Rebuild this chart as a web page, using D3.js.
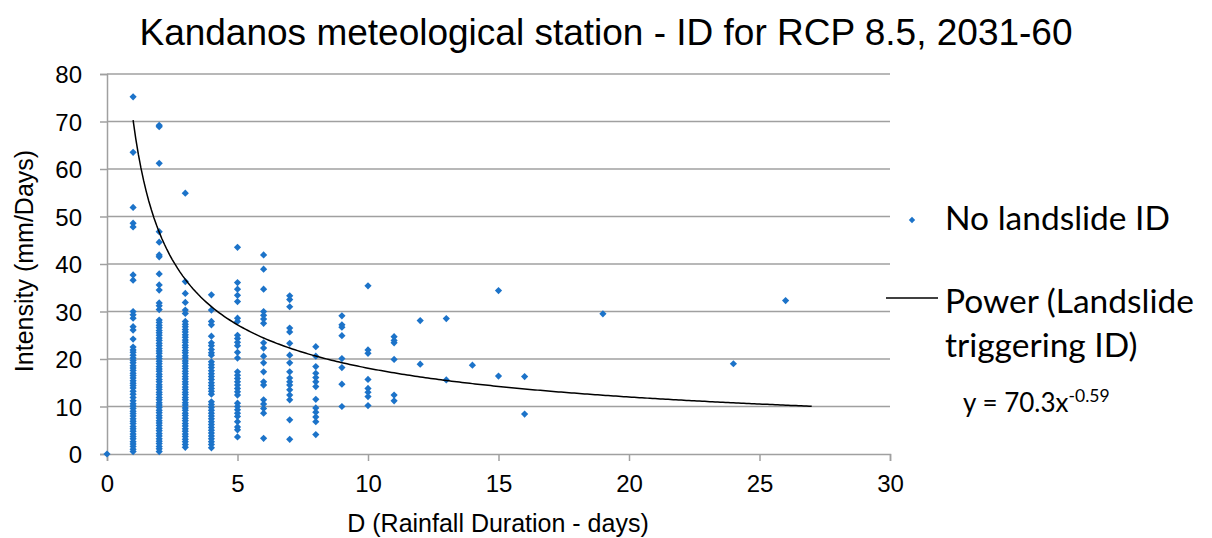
<!DOCTYPE html>
<html>
<head>
<meta charset="utf-8">
<script src="https://cdn.jsdelivr.net/npm/d3@7"></script>
<style>
  body { margin: 0; background: #fff; }
  text { font-family: "Liberation Sans", Arial, sans-serif; }
  .legend text { font-family: Lato, "Open Sans", sans-serif; }
</style>
</head>
<body>
<script>
var W = 1212, H = 538;

// rainfall duration (days) and the intensities read at each duration
var durations = [0, 1, 2, 3, 4, 5, 6, 7, 8, 9, 10, 11, 12, 13, 14, 15, 16, 19, 24, 26];
var intensities = [
  [0],
  [75.2, 63.5, 51.9, 48.6, 47.8, 37.7, 36.6, 30.0, 29.3, 28.6, 26.8, 26.1, 24.2, 22.5, 21.9, 21.4, 20.8,
   20.2, 19.7, 19.2, 18.6, 18.1, 17.6, 17.0, 16.5, 16.0, 15.4, 14.9, 14.4, 13.9, 13.2, 12.6, 11.9, 11.2,
   10.6, 10.1, 9.6, 9.0, 8.5, 8.0, 7.4, 6.9, 6.4, 5.8, 5.3, 4.8, 4.2, 3.7, 3.2, 2.6, 2.1, 1.6, 1.0, 0.5],
  [69.2, 68.9, 61.2, 46.8, 44.6, 41.9, 41.5, 37.9, 35.6, 34.5, 31.8, 31.2, 30.4,
   28.2, 27.7, 27.1, 26.6, 26.0, 25.5, 25.0, 24.4, 23.9, 23.3, 22.8, 22.2, 21.7, 21.2, 20.6, 20.1, 19.5,
   19.0, 18.4, 17.9, 17.4, 16.8, 16.3, 15.7, 15.2, 14.6, 14.1, 13.6, 13.0, 12.5, 11.9, 11.4, 10.8, 10.3,
   9.8, 9.2, 8.7, 8.1, 7.6, 7.0, 6.5, 6.0, 5.4, 4.9, 4.3, 3.8, 3.2, 2.7, 2.2, 1.6, 1.1, 0.5],
  [54.9, 36.3, 33.8, 31.9, 30.3, 29.6,
   27.9, 27.3, 26.8, 26.2, 25.7, 25.1, 24.6, 24.0, 23.5, 22.9, 22.4, 21.8, 21.3, 20.7, 20.2, 19.6, 19.1,
   18.5, 18.0, 17.4, 16.9, 16.3, 15.8, 15.2, 14.7, 14.1, 13.6, 13.0, 12.5, 11.9, 11.4, 10.8, 10.3, 9.7,
   9.2, 8.6, 8.1, 7.5, 7.0, 6.4, 5.9, 5.3, 4.8, 4.2, 3.7, 3.1, 2.6, 2.0, 1.4],
  [33.5, 30.3, 27.9, 27.2, 24.8, 23.4, 22.8, 22.0, 21.3, 20.8,
   19.4, 18.8, 18.2, 17.5, 16.9, 16.3, 15.7, 15.0, 14.4, 13.8, 13.2, 12.6,
   11.0, 10.4, 9.8, 9.2, 8.6, 8.0, 7.4, 6.8, 6.2, 5.6, 5.0, 4.4, 3.8, 3.2, 2.6, 2.0, 1.3],
  [43.5, 36.1, 34.7, 33.4, 32.1, 28.6, 27.9, 25.0, 24.3, 23.5, 22.8, 21.4, 20.2, 17.3, 16.6, 15.9,
   15.2, 14.5, 13.8, 13.1, 12.4, 10.7, 10.0, 9.3, 8.6, 7.9, 6.8, 5.7, 5.1, 3.6],
  [41.9, 38.9, 34.7, 30.0, 29.2, 28.4, 27.5, 23.4, 22.3, 20.6, 19.2, 17.3, 15.2, 14.5, 11.4, 10.5,
   9.6, 8.6, 3.3],
  [33.3, 32.5, 31.0, 26.5, 25.7, 23.3, 20.8, 19.2, 17.3, 16.0, 15.2, 14.5, 13.5, 12.4, 11.4, 7.2, 3.1],
  [22.6, 20.6, 18.4, 17.0, 16.1, 15.2, 14.2, 11.5, 9.7, 8.8, 7.8, 6.8, 4.1],
  [29.1, 27.2, 26.7, 24.9, 20.1, 18.2, 14.7, 10.0],
  [35.4, 21.9, 21.2, 15.7, 13.8, 13.0, 12.1, 10.2],
  [24.7, 23.9, 23.4, 19.9, 12.4, 11.2],
  [28.1, 18.9],
  [28.5, 15.6],
  [18.7],
  [34.4, 16.4],
  [16.3, 8.4],
  [29.5],
  [19.0],
  [32.3]
];

// power trendline shown in the legend: y = a * x^b, drawn from x = 1 to 27
var trendA = 70.3, trendB = -0.59;
var trendRange = [1, 27];

var xTicks = [0, 5, 10, 15, 20, 25, 30];
var yTicks = [0, 10, 20, 30, 40, 50, 60, 70, 80];

var points = [];
durations.forEach(function(d, i) {
  intensities[i].forEach(function(v) { points.push({ x: d, y: v }); });
});

var margin = { left: 107, right: W - 890, top: 74, bottom: H - 454 };

var svg = d3.select("body").append("svg")
  .attr("width", W)
  .attr("height", H);

var x = d3.scaleLinear().domain([0, 30]).range([margin.left, W - margin.right]);
var y = d3.scaleLinear().domain([0, 80]).range([H - margin.bottom, margin.top]);

var gridColor = "#a0a0a0";

// horizontal gridlines
svg.append("g")
  .selectAll("line")
  .data(yTicks.slice(1))
  .enter().append("line")
  .attr("x1", x(0)).attr("x2", x(30))
  .attr("y1", function(d) { return y(d); })
  .attr("y2", function(d) { return y(d); })
  .attr("stroke", gridColor)
  .attr("stroke-width", 1.5);

// axes
var xAxis = svg.append("g")
  .attr("transform", "translate(0," + y(0) + ")")
  .call(d3.axisBottom(x).tickValues(xTicks).tickSize(7).tickPadding(14));
var yAxis = svg.append("g")
  .attr("transform", "translate(" + x(0) + ",0)")
  .call(d3.axisLeft(y).tickValues(yTicks).tickSize(7).tickPadding(18));

[xAxis, yAxis].forEach(function(a) {
  a.select(".domain").attr("stroke", gridColor).attr("stroke-width", 1.5);
  a.selectAll(".tick line").attr("stroke", gridColor).attr("stroke-width", 1.5);
  a.selectAll(".tick text")
    .attr("fill", "#000")
    .style("font-size", "24px")
    .style("font-family", "'Liberation Sans', Arial, sans-serif");
});
yAxis.selectAll(".tick text").attr("dy", "0.36em");

// scatter points
var diamond = d3.symbol().type(d3.symbolSquare).size(26);
svg.append("g")
  .selectAll("path")
  .data(points)
  .enter().append("path")
  .attr("d", diamond)
  .attr("transform", function(d) { return "translate(" + x(d.x) + "," + y(d.y) + ") rotate(45)"; })
  .attr("fill", "#1C73C9");

// trendline
var trendXs = d3.range(trendRange[0], trendRange[1] + 0.001, 0.1);
var line = d3.line()
  .x(function(d) { return x(d); })
  .y(function(d) { return y(trendA * Math.pow(d, trendB)); });
svg.append("path")
  .datum(trendXs)
  .attr("d", line)
  .attr("fill", "none")
  .attr("stroke", "#000")
  .attr("stroke-width", 1.5);

// title + axis titles
svg.append("text")
  .attr("x", 606).attr("y", 45)
  .attr("text-anchor", "middle")
  .style("font-size", "37px")
  .text("Kandanos meteological station - ID for RCP 8.5, 2031-60");

svg.append("text")
  .attr("x", 498).attr("y", 532)
  .attr("text-anchor", "middle")
  .style("font-size", "25px")
  .text("D (Rainfall Duration - days)");

svg.append("text")
  .attr("transform", "translate(33,261) rotate(-90)")
  .attr("text-anchor", "middle")
  .style("font-size", "25px")
  .text("Intensity (mm/Days)");

// legend
var legend = svg.append("g").attr("class", "legend");
legend.append("path")
  .attr("d", d3.symbol().type(d3.symbolSquare).size(20))
  .attr("transform", "translate(912,220) rotate(45)")
  .attr("fill", "#1C73C9");
legend.append("text")
  .attr("x", 945).attr("y", 230)
  .style("font-size", "33.5px")
  .text("No landslide ID");
legend.append("line")
  .attr("x1", 886).attr("x2", 938)
  .attr("y1", 298).attr("y2", 298)
  .attr("stroke", "#000").attr("stroke-width", 1.5);
legend.append("text")
  .attr("x", 945).attr("y", 313)
  .style("font-size", "33.5px")
  .text("Power (Landslide");
legend.append("text")
  .attr("x", 945).attr("y", 357)
  .style("font-size", "33.5px")
  .text("triggering ID)");
var eq = legend.append("text")
  .attr("x", 963).attr("y", 412)
  .style("font-size", "26px");
eq.append("tspan").text("y = " + trendA + "x");
eq.append("tspan")
  .attr("dy", -10)
  .style("font-size", "17.5px")
  .text(trendB);
</script>
</body>
</html>
